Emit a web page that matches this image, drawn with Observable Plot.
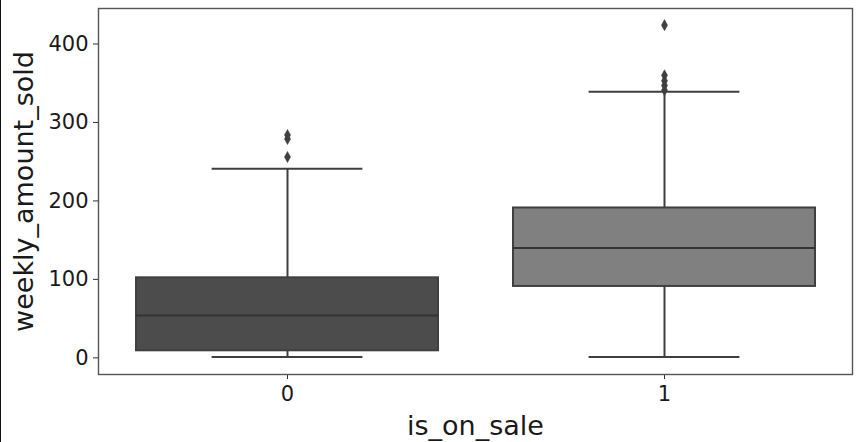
<!DOCTYPE html>
<html>
<head>
<meta charset="utf-8">
<script src="https://cdn.jsdelivr.net/npm/d3@7"></script>
<script src="https://cdn.jsdelivr.net/npm/@observablehq/plot@0.6"></script>
<style>
  html, body { margin: 0; padding: 0; background: #fff; }
  body { width: 859px; height: 442px; overflow: hidden; position: relative; }
  #edge { position: absolute; left: 0; top: 0; width: 1px; height: 442px; background: #111; }
  svg { font-family: "DejaVu Sans", sans-serif; overflow: visible; }
  svg g[aria-label="y-axis tick label"] text, svg g[aria-label="x-axis tick label"] text { font-size: 21px !important; }
  svg g[aria-label="y-axis label"] text, svg g[aria-label="x-axis label"] text { font-size: 27px !important; }
</style>
</head>
<body>
<div id="edge"></div>
<div id="chart"></div>
<script>
// Summary statistics
const categories = ["0", "1"];
const q1 = [9, 91];
const median = [54, 140];
const q3 = [102, 191];
const whiskerLow = [1, 1];
const whiskerHigh = [241, 339];
const fills = ["#4c4c4c", "#808080"];
const outlierCategory = ["0", "0", "0", "1", "1", "1", "1", "1"];
const outlierValue = [284, 279, 256, 424, 360, 353, 347, 341];
const yTicks = [0, 100, 200, 300, 400];

const boxes = categories.map((c, i) => ({
  cat: c, q1: q1[i], med: median[i], q3: q3[i], lo: whiskerLow[i], hi: whiskerHigh[i], fill: fills[i]
}));
const outliers = outlierCategory.map((c, i) => ({cat: c, v: outlierValue[i]}));

const thinDiamond = {
  draw(context, size) {
    const h = Math.sqrt(size) * 0.7, w = h * 0.55;
    context.moveTo(0, -h);
    context.lineTo(w, 0);
    context.lineTo(0, h);
    context.lineTo(-w, 0);
    context.closePath();
  }
};

const lineColor = "#3f3f3f";
const chart = Plot.plot({
  width: 859,
  height: 442,
  marginLeft: 98,
  marginRight: 7,
  marginTop: 8,
  marginBottom: 68,
  style: {fontFamily: "DejaVu Sans, sans-serif", fontSize: "21px", color: "#1a1a1a", background: "white"},
  x: {type: "band", domain: categories, paddingInner: 0.2, paddingOuter: 0.1, align: 0.5},
  y: {domain: [-21.2, 445.2], ticks: yTicks},
  marks: [
    Plot.ruleX(boxes, {x: "cat", y1: "q3", y2: "hi", stroke: lineColor, strokeWidth: 2}),
    Plot.ruleX(boxes, {x: "cat", y1: "lo", y2: "q1", stroke: lineColor, strokeWidth: 2}),
    Plot.tickY(boxes, {x: "cat", y: "hi", stroke: lineColor, strokeWidth: 2, insetLeft: 75.6, insetRight: 75.6}),
    Plot.tickY(boxes, {x: "cat", y: "lo", stroke: lineColor, strokeWidth: 2, insetLeft: 75.6, insetRight: 75.6}),
    Plot.barY(boxes, {x: "cat", y1: "q1", y2: "q3", fill: "fill", stroke: lineColor, strokeWidth: 2}),
    Plot.tickY(boxes, {x: "cat", y: "med", stroke: "#333", strokeWidth: 2.2}),
    Plot.dot(outliers, {x: "cat", y: "v", symbol: thinDiamond, r: 4.5, fill: lineColor, stroke: lineColor, strokeWidth: 0.5}),
    Plot.axisY({ticks: yTicks, tickSize: 5, tickPadding: 5, stroke: "#333", fill: "#1a1a1a",
      label: "weekly_amount_sold", labelAnchor: "center", labelArrow: "none", labelOffset: 85}),
    Plot.axisX({tickSize: 5, tickPadding: 7, stroke: "#333", fill: "#1a1a1a",
      label: "is_on_sale", labelAnchor: "center", labelArrow: "none", labelOffset: 60}),
    Plot.frame({stroke: "#555", strokeWidth: 1.4})
  ]
});
document.getElementById("chart").appendChild(chart);
</script>
</body>
</html>
